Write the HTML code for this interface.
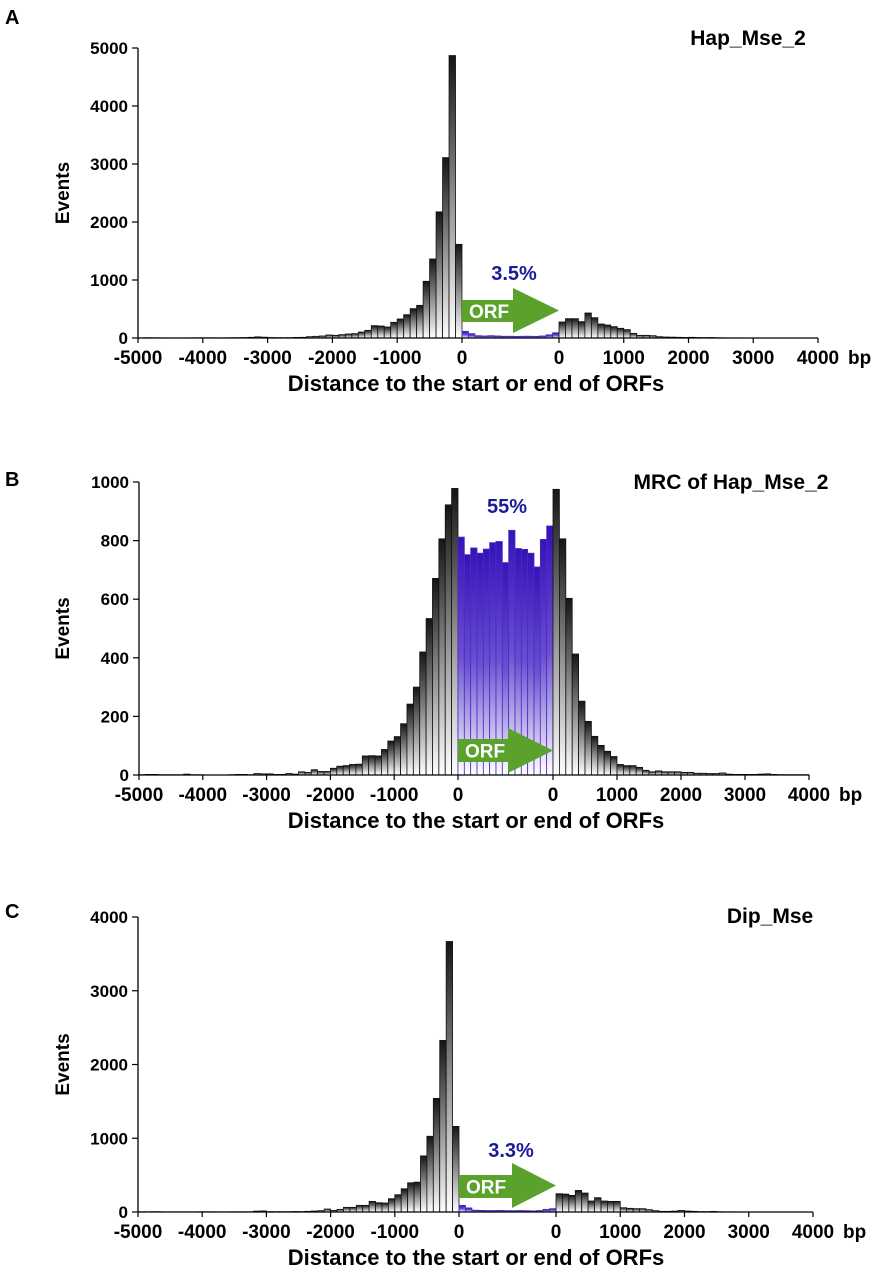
<!DOCTYPE html>
<html><head><meta charset="utf-8">
<style>
html,body{margin:0;padding:0;background:#fff;}
svg{display:block;font-family:"Liberation Sans",Arial,sans-serif;font-weight:bold;}
</style></head>
<body>
<svg id="fig" width="875" height="1280" viewBox="0 0 875 1280" xmlns="http://www.w3.org/2000/svg">
<defs>
<linearGradient id="gGray" x1="0" y1="0" x2="0" y2="1">
<stop offset="0" stop-color="#151515"/><stop offset="0.55" stop-color="#9a9a9a"/><stop offset="1" stop-color="#ffffff"/>
</linearGradient>
<linearGradient id="gPurp" x1="0" y1="0" x2="0" y2="1">
<stop offset="0" stop-color="#3512b8"/><stop offset="0.5" stop-color="#6a4fd0"/><stop offset="1" stop-color="#ffffff"/>
</linearGradient>
</defs>
</svg>
<script>
// Panel A: Hap_Mse_2
const aLeft=[3,5,4,3,3,2,2,3,3,4, 3,4,3,4,5,6,8,12,20,14, 8,6,5,6,10, 12,23,29,35,52,46,58,69,75,103, 132,213,207,190,270,328,402,506,563,978, 1363,2175,3110,4870,1615];
const aOrf=[115,75,40,35,40,35,30,30,28,30,30,28,35,55,90];
const aRight=[276,333,333,282,431,350,241,224,196,167,144,80,46,46,40,23,17,15,12,10,12,8,6,8,5,3,2,2,1,1,1,1,1,1,0,0,0,0,0,0];
const aYTicks=[0,1000,2000,3000,4000,5000];
// Panel B: MRC of Hap_Mse_2
const bLeft=[1,2,2,1,1,1,1,3,1,1, 0,0,0,0,1,2,2,1,5,4, 4,2,2,5,3,11,9,18,12,12, 23,30,32,36,37,65,66,65,87,116, 131,175,242,300,420,534,671,806,922,978];
const bOrf=[812,752,775,757,771,793,797,725,835,773,770,757,710,804,850];
const bRight=[975,806,603,413,252,183,132,101,81,63, 36,32,32,26,16,11,14,11,11,11, 9,9,6,6,5,5,7,3,2,2, 2,2,3,4,2,1,1,1,1,1];
const bYTicks=[0,200,400,600,800,1000];
// Panel C: Dip_Mse
const cLeft=[3,3,4,3,2,2,2,2,2,3, 3,3,2,2,3,3,3,3,12,15, 5,4,4,4,6, 5,9,13,18,40,22,36,63,63,90, 90,144,126,122,180,234,315,396,405,761, 1027,1540,2327,3668,1161];
const cOrf=[90,55,25,22,20,20,22,18,18,20,18,15,20,36,45];
const cRight=[248,243,225,292,257,149,194,149,144,144, 58,50,45,45,32,18,9,9,12,22, 13,9,5,5,8,3,2,2,1,1, 1,1,1,1,1,0,0,0,0,0];
const cYTicks=[0,1000,2000,3000,4000];
const xLeftTicks=[-5000,-4000,-3000,-2000,-1000,0];
const xRightTicks=[0,1000,2000,3000,4000];

const NS="http://www.w3.org/2000/svg";
const fig=document.getElementById('fig');
function mk(tag,attrs,parent,text){const e=document.createElementNS(NS,tag);for(const k in attrs)e.setAttribute(k,attrs[k]);if(text!==undefined)e.textContent=text;(parent||fig).appendChild(e);return e;}

const panels=[
 {id:'a',letter:'A',letterY:24,title:'Hap_Mse_2',titleX:748,titleY:45,x0:138,orfS:462,orfE:559,xEnd:818,y0:338,yMax:5000,yTop:48,
  left:aLeft,orf:aOrf,right:aRight,yticks:aYTicks,pct:'3.5%',pctX:514,pctY:280,arr:{b0:300,b1:322,h0:288,h1:333,bx:513}},
 {id:'b',letter:'B',letterY:486,title:'MRC of Hap_Mse_2',titleX:731,titleY:489,x0:139,orfS:458,orfE:553,xEnd:809,y0:775,yMax:1000,yTop:482,
  left:bLeft,orf:bOrf,right:bRight,yticks:bYTicks,pct:'55%',pctX:507,pctY:513,arr:{b0:739,b1:762,h0:728,h1:773,bx:508}},
 {id:'c',letter:'C',letterY:918,title:'Dip_Mse',titleX:770,titleY:923,x0:138,orfS:459,orfE:556,xEnd:813,y0:1212,yMax:4000,yTop:917,
  left:cLeft,orf:cOrf,right:cRight,yticks:cYTicks,pct:'3.3%',pctX:511,pctY:1157,arr:{b0:1175,b1:1198,h0:1163,h1:1208,bx:512}}
];

panels.forEach(p=>{
  const g=mk('g',{});
  
  
  const yScale=v=>p.y0-(v/p.yMax)*(p.y0-p.yTop);
  const xL=bp=>p.x0+(bp+5000)/5000*(p.orfS-p.x0);
  const xR=bp=>p.orfE+bp/4000*(p.xEnd-p.orfE);
  const wL=(p.orfS-p.x0)/p.left.length, wO=(p.orfE-p.orfS)/p.orf.length, wR=(p.xEnd-p.orfE)/p.right.length;
  const bars=mk('g',{},g);
  
  
  function bar(x,w,v,purple,name){
    const y=yScale(v);
    const r=mk('rect',{x:x.toFixed(2),y:y.toFixed(2),width:w.toFixed(2),height:Math.max(0,p.y0-y).toFixed(2),
      fill:purple?'url(#gPurp)':'url(#gGray)',stroke:purple?'#4a2cc4':'#111','stroke-width':0.8},bars);
    
    
  }
  p.left.forEach((v,i)=>bar(xL(-5000+i*100),wL,v,false,'bar-upstream'));
  p.orf.forEach((v,i)=>bar(p.orfS+i*wO,wO,v,true,'bar-orf'));
  p.right.forEach((v,i)=>bar(xR(i*100),wR,v,false,'bar-downstream'));
  const ax=mk('line',{x1:p.x0,y1:p.yTop,x2:p.x0,y2:p.y0,stroke:'#000','stroke-width':1.3},g);
  
  const xa=mk('line',{x1:p.x0,y1:p.y0,x2:p.xEnd,y2:p.y0,stroke:'#000','stroke-width':1.3},g);
  
  p.yticks.forEach(t=>{
    const y=yScale(t);
    mk('line',{x1:p.x0-6,y1:y,x2:p.x0,y2:y,stroke:'#000','stroke-width':1.2},g);
    const tx=mk('text',{x:p.x0-10,y:y+6,'text-anchor':'end','font-size':17},g,String(t));
    
  });
  const yt=mk('text',{x:0,y:0,'text-anchor':'middle','font-size':19,transform:`translate(69,${(p.y0+p.yTop)/2}) rotate(-90)`},g,'Events');
  
  const tickY=p.y0+26;
  xLeftTicks.forEach(t=>{
    const x=xL(t);
    mk('line',{x1:x,y1:p.y0,x2:x,y2:p.y0+5,stroke:'#000','stroke-width':1.2},g);
    const tx=mk('text',{x:x,y:tickY,'text-anchor':'middle','font-size':19},g,String(t));
    
  });
  xRightTicks.forEach(t=>{
    const x=xR(t);
    mk('line',{x1:x,y1:p.y0,x2:x,y2:p.y0+5,stroke:'#000','stroke-width':1.2},g);
    const tx=mk('text',{x:x,y:tickY,'text-anchor':'middle','font-size':19},g,String(t));
    
  });
  const bp=mk('text',{x:p.xEnd+30,y:tickY,'font-size':19},g,'bp');
  
  const xt=mk('text',{x:476,y:p.y0+53,'text-anchor':'middle','font-size':22},g,'Distance to the start or end of ORFs');
  
  const L=mk('text',{x:5,y:p.letterY,'font-size':20},g,p.letter);
  
  const T=mk('text',{x:p.titleX,y:p.titleY,'text-anchor':'middle','font-size':21},g,p.title);
  
  const a=p.arr;
  const arrow=mk('polygon',{points:`${p.orfS},${a.b0} ${a.bx},${a.b0} ${a.bx},${a.h0} ${p.orfE},${(a.h0+a.h1)/2} ${a.bx},${a.h1} ${a.bx},${a.b1} ${p.orfS},${a.b1}`,fill:'#5aa22c'},g);
  
  const ot=mk('text',{x:p.orfS+27,y:(a.b0+a.b1)/2+7,'text-anchor':'middle','font-size':19,fill:'#fff'},g,'ORF');
  
  const pt=mk('text',{x:p.pctX,y:p.pctY,'text-anchor':'middle','font-size':20,fill:'#1a1a9c'},g,p.pct);
  
});
</script>
</body></html>
